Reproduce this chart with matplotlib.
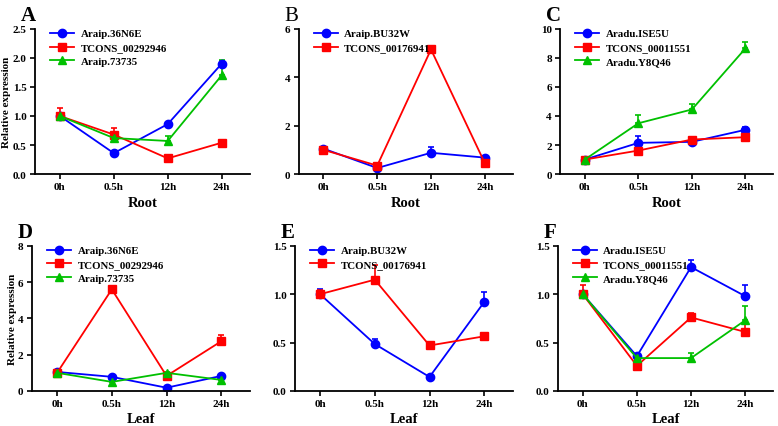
import numpy as np
import matplotlib.pyplot as plt
from matplotlib.lines import Line2D

plt.rcParams['font.family'] = ['Liberation Serif', 'DejaVu Serif']
plt.rcParams['font.weight'] = 'bold'

times = ['0h', '0.5h', '12h', '24h']

# panel A (root)
a_names = ['Araip.36N6E', 'TCONS_00292946', 'Araip.73735']
a_vals = [[1.0, 0.36, 0.86, 1.90], [1.0, 0.68, 0.27, 0.54], [1.0, 0.62, 0.57, 1.70]]
a_errs = [[0.03, 0.02, 0.02, 0.05], [0.14, 0.12, 0.02, 0.02], [0.05, 0.03, 0.08, 0.27]]
# panel B (root)
b_names = ['Araip.BU32W', 'TCONS_00176941']
b_vals = [[1.05, 0.25, 0.88, 0.68], [1.0, 0.35, 5.15, 0.46]]
b_errs = [[0.05, 0.03, 0.22, 0.04], [0.05, 0.03, 0.08, 0.03]]
# panel C (root)
c_names = ['Aradu.ISE5U', 'TCONS_00011551', 'Aradu.Y8Q46']
c_vals = [[1.0, 2.15, 2.22, 3.05], [1.0, 1.62, 2.38, 2.54], [1.0, 3.50, 4.45, 8.66]]
c_errs = [[0.05, 0.45, 0.05, 0.22], [0.05, 0.05, 0.05, 0.05], [0.05, 0.60, 0.38, 0.42]]
# panel D (leaf)
d_vals = [[1.05, 0.78, 0.18, 0.83], [1.0, 5.6, 0.83, 2.74], [1.0, 0.50, 1.0, 0.61]]
d_errs = [[0.05, 0.04, 0.03, 0.04], [0.05, 0.12, 0.05, 0.36], [0.05, 0.04, 0.05, 0.04]]
# panel E (leaf)
e_vals = [[1.0, 0.485, 0.145, 0.92], [1.0, 1.15, 0.47, 0.565]]
e_errs = [[0.05, 0.055, 0.01, 0.10], [0.04, 0.15, 0.02, 0.02]]
# panel F (leaf)
f_vals = [[1.0, 0.36, 1.28, 0.98], [1.0, 0.26, 0.76, 0.61], [1.0, 0.34, 0.34, 0.73]]
f_errs = [[0.02, 0.02, 0.07, 0.11], [0.09, 0.02, 0.05, 0.09], [0.02, 0.02, 0.05, 0.15]]

colors = ['#0000ff', '#ff0000', '#00c000']
markers = ['o', 's', '^']

fig = plt.figure(figsize=(7.78, 4.27), dpi=100)

panels = [
    ('A', 'bold', [0.045, 0.59, 0.276, 0.34], a_names, a_vals, a_errs, 2.5, 0.5, 'Root', True),
    ('B', 'normal', [0.384, 0.59, 0.275, 0.34], b_names, b_vals, b_errs, 6, 2, 'Root', False),
    ('C', 'bold', [0.720, 0.59, 0.274, 0.34], c_names, c_vals, c_errs, 10, 2, 'Root', False),
    ('D', 'bold', [0.041, 0.082, 0.28, 0.34], a_names, d_vals, d_errs, 8, 2, 'Leaf', True),
    ('E', 'bold', [0.379, 0.082, 0.28, 0.34], b_names, e_vals, e_errs, 1.5, 0.5, 'Leaf', False),
    ('F', 'bold', [0.717, 0.082, 0.277, 0.34], c_names, f_vals, f_errs, 1.5, 0.5, 'Leaf', False),
]

x = np.arange(len(times))
for letter, lw, pos, names, vals, errs, ymax, step, xlab, ylab in panels:
    ax = fig.add_axes(pos)
    handles = []
    for i, (name, v, e) in enumerate(zip(names, vals, errs)):
        v = np.array(v)
        e = np.array(e)
        ax.errorbar(x, v, yerr=[np.zeros_like(e), e], color=colors[i], marker=markers[i],
                    markersize=6, lw=1.3, capsize=2.5, elinewidth=1.2, capthick=1.2)
        handles.append(Line2D([], [], color=colors[i], marker=markers[i], markersize=6,
                              lw=1.3, label=name))
    ax.set_xlim(-0.46, 3.52)
    ax.set_ylim(0, ymax)
    ticks = np.arange(0, ymax + step / 2, step)
    ax.set_yticks(ticks)
    if ymax < 3:
        ax.set_yticklabels([f'{t:.1f}' for t in ticks])
    else:
        ax.set_yticklabels([f'{t:.0f}' for t in ticks])
    ax.set_xticks(x)
    ax.set_xticklabels(times)
    ax.spines['top'].set_visible(False)
    ax.spines['right'].set_visible(False)
    for s in ['left', 'bottom']:
        ax.spines[s].set_linewidth(1.3)
    ax.tick_params(width=1.2, length=3.5, labelsize=8, pad=2.5)
    ax.set_xlabel(xlab, fontsize=10.5, fontweight='bold', labelpad=3)
    if ylab:
        ax.set_ylabel('Relative expression', fontsize=8, fontweight='bold', labelpad=1)
    ax.legend(handles=handles, loc='upper left', frameon=False, fontsize=7.8, handlelength=2.2,
              handletextpad=0.6, borderaxespad=0.0, labelspacing=0.4,
              bbox_to_anchor=(0.05, 1.03))
    fig.text(pos[0] - 0.018, pos[1] + pos[3] + 0.02, letter, fontsize=15, fontweight=lw)

fig.savefig('out.png', dpi=100)
